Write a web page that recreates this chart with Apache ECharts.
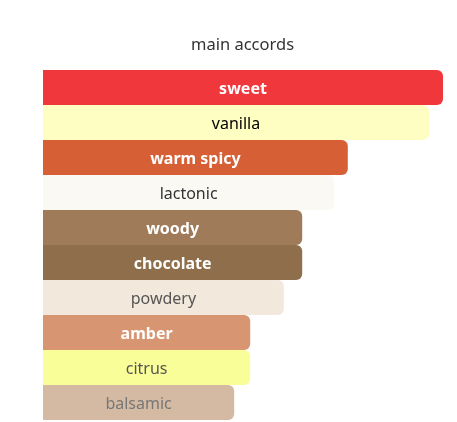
<!DOCTYPE html>
<html>
<head>
<meta charset="utf-8">
<script src="https://cdn.jsdelivr.net/npm/echarts@6/dist/echarts.min.js"></script>
<style>
    html, body { margin: 0; padding: 0; background: #fff; }
    #box { width: 457px; height: 422px; }
</style>
</head>
<body>
<div id="box"></div>
<script>
// accords, top to bottom
var accords = ['sweet', 'vanilla', 'warm spicy', 'lactonic', 'woody', 'chocolate', 'powdery', 'amber', 'citrus', 'balsamic'];
// relative strength (%)
var strength = [100, 96.5, 76.2, 72.8, 64.8, 64.8, 60.2, 51.8, 51.8, 47.8];

// look of each bar
var barColors = ['#f0373c', '#fefec2', '#d65f35', '#faf9f4', '#a07b5a', '#8f6e4c', '#f3e8dc', '#d79571', '#f9fe98', '#d4baa2'];
var textColors = ['#fff', '#000', '#fff', '#333', '#fff', '#fff', '#555', '#fff', '#555', '#777'];
var boldText = [true, false, true, false, true, true, false, true, false, false];

window.onload = function () {
    var chart = echarts.init(document.getElementById('box'));

    var items = strength.map(function (v, i) {
        return {
            value: v,
            itemStyle: { color: barColors[i] },
            label: { color: textColors[i], fontWeight: boldText[i] ? 'bold' : 'normal' }
        };
    });

    chart.setOption({
        animation: false,
        title: {
            text: 'main accords',
            left: 186,
            top: 32,
            textStyle: { fontFamily: 'Noto Sans', fontSize: 16.5, fontWeight: 'normal', color: '#333' }
        },
        grid: { left: 43, right: 14, top: 70, bottom: 2 },
        xAxis: { type: 'value', min: 0, max: 100, show: false },
        yAxis: {
            type: 'category',
            data: accords,
            inverse: true,
            show: false
        },
        series: [{
            type: 'bar',
            data: items,
            barCategoryGap: 0,
            itemStyle: { borderRadius: [0, 6, 6, 0] },
            label: {
                show: true,
                position: 'inside',
                formatter: '{b}',
                offset: [0, 1.5],
                fontFamily: 'Noto Sans',
                fontSize: 16
            }
        }]
    });
};
</script>
</body>
</html>
